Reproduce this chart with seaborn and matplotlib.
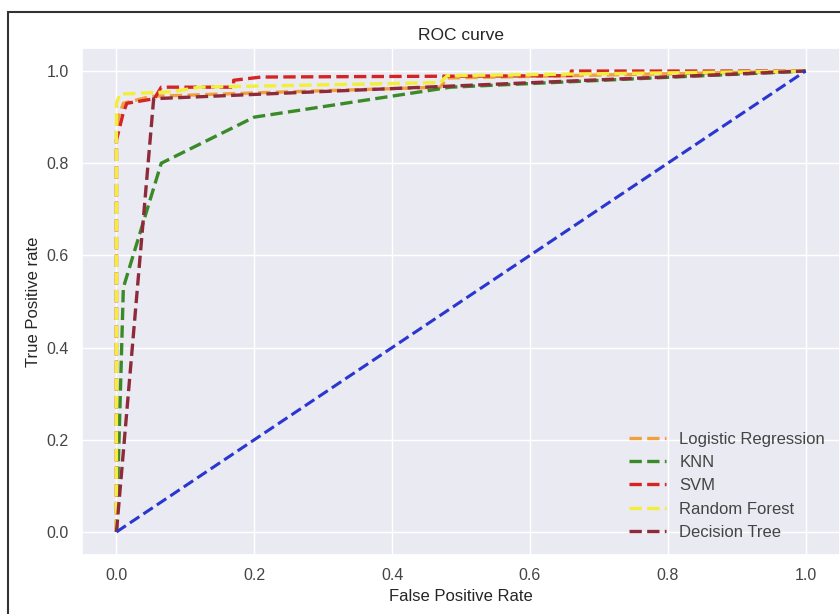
import numpy as np
import pandas as pd
import matplotlib
matplotlib.use('Agg')
import matplotlib.pyplot as plt
import seaborn as sns
from matplotlib.patches import Rectangle

# ROC points
lr_fpr = [0.0, 0.0, 0.003, 0.01, 0.05, 0.25, 0.47, 0.48, 0.66, 1.0]
lr_tpr = [0.0, 0.87, 0.90, 0.93, 0.945, 0.955, 0.965, 0.985, 0.99, 1.0]

knn_fpr = [0.0, 0.01, 0.065, 0.2, 0.485, 1.0]
knn_tpr = [0.0, 0.53, 0.80, 0.90, 0.965, 1.0]

svm_fpr = [0.0, 0.0, 0.01, 0.015, 0.055, 0.065, 0.17, 0.17, 0.21, 0.66, 0.66, 1.0]
svm_tpr = [0.0, 0.85, 0.91, 0.93, 0.94, 0.965, 0.965, 0.98, 0.987, 0.99, 1.0, 1.0]

rf_fpr = [0.0, 0.0, 0.005, 0.08, 0.12, 0.30, 0.47, 0.48, 1.0]
rf_tpr = [0.0, 0.93, 0.95, 0.955, 0.965, 0.97, 0.975, 0.99, 1.0]

dt_fpr = [0.0, 0.054, 1.0]
dt_tpr = [0.0, 0.94, 1.0]

base_fpr = [0.0, 1.0]
base_tpr = [0.0, 1.0]

models = ['Logistic Regression', 'KNN', 'SVM', 'Random Forest', 'Decision Tree']
colors = ['#f0a040', '#3a8a28', '#d42424', '#f2ee3a', '#8e2a3a']
curves = [(lr_fpr, lr_tpr), (knn_fpr, knn_tpr), (svm_fpr, svm_tpr),
          (rf_fpr, rf_tpr), (dt_fpr, dt_tpr)]

sns.set_theme(style='darkgrid')
plt.rcParams['font.family'] = ['Liberation Sans', 'DejaVu Sans']

fig = plt.figure(figsize=(8.4, 6.14), dpi=100)
ax = fig.add_axes([82/840, 1-555/614, 1-82/840, (555-48)/614])

for name, col, (fpr, tpr) in zip(models, colors, curves):
    sns.lineplot(x=fpr, y=tpr, ax=ax, estimator=None, sort=False,
                 color=col, linestyle='--', linewidth=2.4, label=name)

sns.lineplot(x=base_fpr, y=base_tpr, ax=ax, estimator=None, sort=False,
             color='#2a36d0', linestyle='--', linewidth=2.2)

ax.set_xlim(-0.05, 1.05)
ax.set_ylim(-0.05, 1.05)
ax.set_xticks([0.0, 0.2, 0.4, 0.6, 0.8, 1.0])
ax.set_yticks([0.0, 0.2, 0.4, 0.6, 0.8, 1.0])
ax.tick_params(labelsize=11.5, labelcolor='#444444')
ax.set_title('ROC curve', fontsize=12.5)
ax.set_xlabel('False Positive Rate', fontsize=12)
ax.set_ylabel('True Positive rate', fontsize=12)
leg = ax.legend(loc='lower right', fontsize=12, frameon=False, handlelength=2.2)
for t in leg.get_texts():
    t.set_color('#444444')

# thin frame around the figure (screenshot border)
fig.add_artist(Rectangle((8/840, -0.1), 2.0, 1.1 - 12/614, transform=fig.transFigure,
                         fill=False, edgecolor='#333333', linewidth=1.5))

fig.savefig('out.png', dpi=100)
